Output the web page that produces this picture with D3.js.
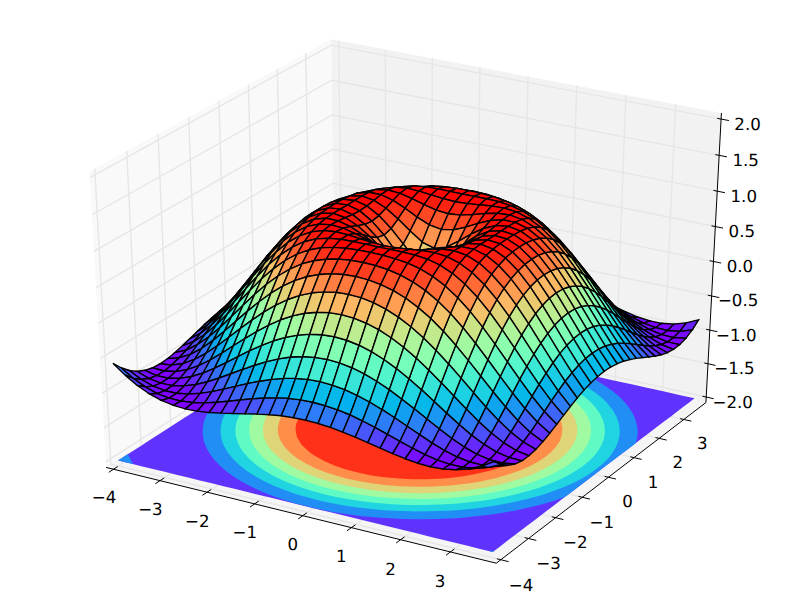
<!DOCTYPE html>
<html><head><meta charset="utf-8"><script src="https://d3js.org/d3.v7.min.js"></script>
<style>html,body{margin:0;background:#fff}svg{display:block}text{font-family:"DejaVu Sans";font-size:16.67px;fill:#000;text-rendering:geometricPrecision}</style></head><body>
<svg id="c" width="800" height="600"></svg>
<script>
// Grid coordinates
const gridX = [-4,-3.75,-3.5,-3.25,-3,-2.75,-2.5,-2.25,-2,-1.75,-1.5,-1.25,-1,-0.75,-0.5,-0.25,0,0.25,0.5,0.75,1,1.25,1.5,1.75,2,2.25,2.5,2.75,3,3.25,3.5,3.75];
const gridY = gridX.slice();
// Surface heights, radially symmetric: row a, column b >= a, in grid steps from the origin
const zRows = [
[0,.247,.479,.682,.841,.949,.997,.984,.909,.778,.598,.382,.141,-.108,-.351,-.572,-.757],
[.346,.530,.711,.857,.957,.999,.981,.903,.770,.589,.372,.131,-.118,-.360,-.579,-.762],
[.650,.784,.899,.975,1,.969,.882,.742,.558,.339,.100,-.146,-.384,-.599,-.775],
[.873,.949,.994,.994,.945,.844,.696,.507,.288,.049,-.192,-.425,-.631,-.801],
[.988,1,.973,.903,.787,.629,.434,.214,-.021,-.256,-.478,-.675,-.832],
[.981,.928,.837,.706,.537,.339,.121,-.108,-.334,-.544,-.725,-.869],
[.853,.742,.598,.425,.224,.009,-.211,-.425,-.618,-.782,-.905],
[.618,.465,.288,.090,-.118,-.325,-.522,-.697,-.839,-.940],
[.308,.131,-.060,-.256,-.449,-.625,-.775,-.895,-.971],
[-.040,-.220,-.400,-.572,-.725,-.852,-.943,-.993],
[-.384,-.544,-.691,-.818,-.917,-.980,-1],
[-.681,-.801,-.898,-.966,-.998,-.990],
[-.891,-.958,-.995,-.996,-.959],
[-.993,-.998,-.970,-.905],
[-.972,-.914,-.825],
[-.832,-.717],
[-.586]];
const contourLevels = [-1,-.75,-.5,-.25,0,.25,.5,.75];
const xTicks = [-4,-3,-2,-1,0,1,2,3];
const yTicks = [-4,-3,-2,-1,0,1,2,3];
const zTicks = [-2,-1.5,-1,-.5,0,.5,1,1.5,2];
const xLim = [-4,3.75], yLim = [-4,3.75], zLim = [-2,2];

const zAt = (x,y)=>{const a=Math.abs(Math.round(x*4)),b=Math.abs(Math.round(y*4));const l=Math.min(a,b),h=Math.max(a,b);return zRows[l][h-l];};

// Colormap: matplotlib "rainbow"
const clamp01=d3.scaleLinear([0,1],[0,1]).clamp(true);
const rainbow=t=>d3.rgb(255*clamp01(Math.abs(2*t-.5)),255*clamp01(Math.sin(Math.PI*t)),255*clamp01(Math.cos(Math.PI*t/2))).formatRgb();

// View: elevation 30, azimuth -60, distance 10
const elev=30*Math.PI/180, azim=-60*Math.PI/180, dist=10;
const n=[Math.cos(azim)*Math.cos(elev),Math.sin(azim)*Math.cos(elev),Math.sin(elev)];
const uLen=Math.hypot(n[0],n[1]);
const u=[-n[1]/uLen,n[0]/uLen,0];
const v=[n[1]*u[2]-n[2]*u[1],n[2]*u[0]-n[0]*u[2],n[0]*u[1]-n[1]*u[0]];
const ux=d3.scaleLinear(xLim,[0,1]),uy=d3.scaleLinear(yLim,[0,1]),uz=d3.scaleLinear(zLim,[0,1]);
const sx=d3.scaleLinear([-.095,.09],[0,800]),sy=d3.scaleLinear([-.095,.09],[600,0]);
const dot=(a,b)=>a[0]*b[0]+a[1]*b[1]+a[2]*b[2];
// project unit-cube coordinates -> [px,py,w]
function pu(p){const r=[p[0]-.5,p[1]-.5,p[2]-.5];const w=dist-dot(n,r);return [sx(dot(u,r)/w),sy(dot(v,r)/w),w];}
const pw=(x,y,z)=>pu([ux(x),uy(y),uz(z)]);
const svg=d3.select("#c");
const pathOf=pts=>"M"+pts.map(p=>p[0].toFixed(2)+","+p[1].toFixed(2)).join("L")+"Z";

// Panes
const lo=-1/48,hi=1+1/48;
const panes=[
 {c:[[lo,lo,lo],[lo,hi,lo],[lo,hi,hi],[lo,lo,hi]],f:"#f9f9f9"},
 {c:[[lo,hi,lo],[hi,hi,lo],[hi,hi,hi],[lo,hi,hi]],f:"#f2f2f2"},
 {c:[[lo,lo,lo],[hi,lo,lo],[hi,hi,lo],[lo,hi,lo]],f:"#f5f5f5"}];
svg.append("g").selectAll("path").data(panes).join("path").attr("d",d=>pathOf(d.c.map(pu))).attr("fill",d=>d.f);

// Gridlines
const gridLines=[
 ...xTicks.map(t=>[[ux(t),lo,lo],[ux(t),hi,lo],[ux(t),hi,hi]]),
 ...yTicks.map(t=>[[hi,uy(t),lo],[lo,uy(t),lo],[lo,uy(t),hi]]),
 ...zTicks.map(t=>[[lo,lo,uz(t)],[lo,hi,uz(t)],[hi,hi,uz(t)]])];
const line2=d3.line();
svg.append("g").selectAll("path").data(gridLines).join("path")
 .attr("d",d=>line2(d.map(p=>pu(p).slice(0,2)))).attr("fill","none").attr("stroke","#e6e6e6").attr("stroke-width",1.39);

// Axis lines and ticks
const axLines=[[[lo,lo,lo],[hi,lo,lo]],[[hi,lo,lo],[hi,hi,lo]],[[hi,hi,lo],[hi,hi,hi]]];
svg.append("g").selectAll("path").data(axLines).join("path")
 .attr("d",d=>line2(d.map(p=>pu(p).slice(0,2)))).attr("stroke","#000").attr("stroke-width",1).attr("fill","none");
const tickSegs=[
 ...xTicks.map(t=>[[ux(t),lo-.02,lo],[ux(t),lo+.018,lo]]),
 ...yTicks.map(t=>[[hi+.02,uy(t),lo],[hi-.01,uy(t),lo]]),
 ...zTicks.map(t=>[[hi+.02,hi,uz(t)],[hi-.01,hi,uz(t)]])];
svg.append("g").selectAll("path").data(tickSegs).join("path")
 .attr("d",d=>line2(d.map(p=>pu(p).slice(0,2)))).attr("stroke","#000").attr("stroke-width",1).attr("fill","none");

// Tick labels
const fmtI=t=>String(t).replace("-","\u2212");
const fmtF=t=>t.toFixed(1).replace("-","\u2212");
const labels=[
 ...xTicks.map(t=>{const p=pu([ux(t),lo-.037,lo-.085]);return {x:p[0]-2,y:p[1],s:fmtI(t)};}),
 ...yTicks.map(t=>{const p=pu([hi+.0615,uy(t),lo-.071]);return {x:p[0]-3.5,y:p[1],s:fmtI(t)};}),
 ...zTicks.map(t=>{const p=pu([hi,hi,uz(t)]);return {x:p[0]+26.5,y:p[1]+5,s:fmtF(t)};})];
svg.append("g").selectAll("text").data(labels).join("text")
 .attr("x",d=>d.x).attr("y",d=>d.y).attr("text-anchor","middle").attr("dominant-baseline","central").text(d=>d.s);

// Filled contours on the floor (z = -2)
const flat=[];gridY.forEach(y=>gridX.forEach(x=>flat.push(zAt(x,y))));
const contours=d3.contours().size([gridX.length,gridY.length]).thresholds(contourLevels)(flat);
const idxX=d3.scaleLinear([.5,gridX.length-.5],[gridX[0],gridX[gridX.length-1]]).clamp(true);
const idxY=d3.scaleLinear([.5,gridY.length-.5],[gridY[0],gridY[gridY.length-1]]).clamp(true);
const bandColor=d3.scaleLinear([contourLevels[0],1],[0,1]);
const floorPath=c=>c.coordinates.map(poly=>poly.map(ring=>pathOf(ring.map(q=>pw(idxX(q[0]),idxY(q[1]),zLim[0])))).join("")).join("");
svg.append("g").selectAll("path").data(contours).join("path")
 .attr("d",floorPath).attr("fill-rule","evenodd")
 .attr("fill",d=>rainbow(bandColor(d.value+.125)));

// Surface
const quads=[];
for(let j=0;j<gridY.length-1;j++)for(let i=0;i<gridX.length-1;i++){
 const c=[[i,j],[i+1,j],[i+1,j+1],[i,j+1]].map(([a,b])=>[gridX[a],gridY[b],zAt(gridX[a],gridY[b])]);
 const pr=c.map(q=>pw(q[0],q[1],q[2]));
 quads.push({pr,z:d3.mean(c,q=>q[2]),w:d3.mean(pr,q=>q[2])});
}
quads.sort((a,b)=>d3.descending(a.w,b.w));
const cnorm=d3.scaleLinear(d3.extent(quads,q=>q.z),[0,1]);
svg.append("g").selectAll("path").data(quads).join("path")
 .attr("d",d=>pathOf(d.pr)).attr("fill",d=>rainbow(cnorm(d.z)))
 .attr("stroke","#000").attr("stroke-width",1.39).attr("stroke-linejoin","miter");
</script></body></html>
